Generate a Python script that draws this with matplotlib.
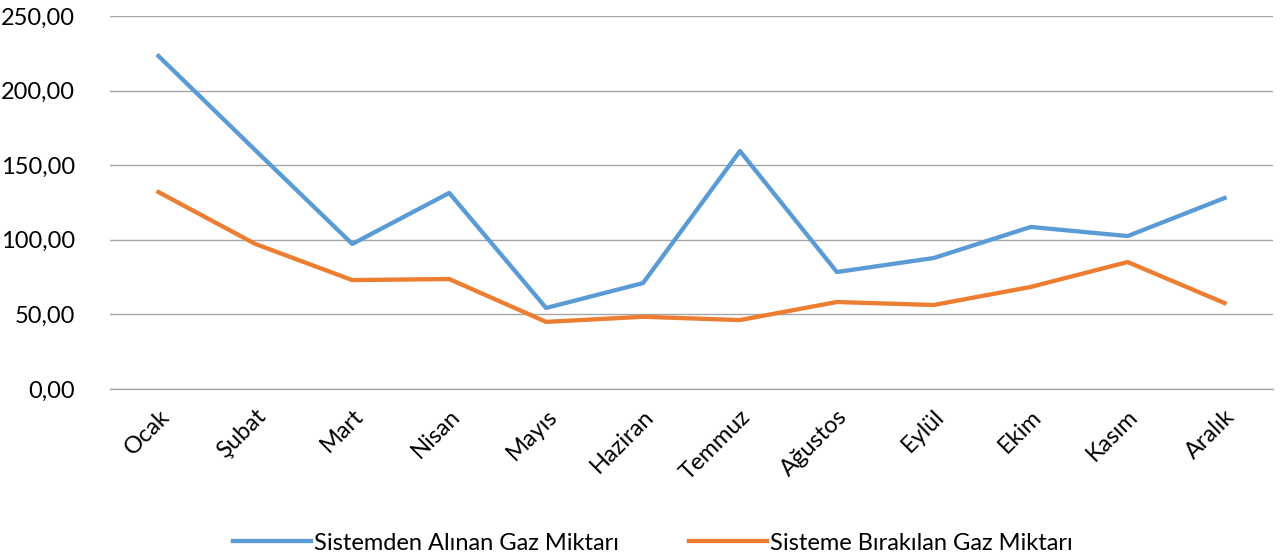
import matplotlib
matplotlib.use("Agg")
import matplotlib.pyplot as plt
from matplotlib.ticker import FuncFormatter

months = ["Ocak", "Şubat", "Mart", "Nisan", "Mayıs", "Haziran", "Temmuz",
          "Ağustos", "Eylül", "Ekim", "Kasım", "Aralık"]
alinan = [223.2, 160.0, 97.2, 131.4, 54.3, 71.0, 159.5, 78.4, 87.8, 108.6, 102.5, 128.0]
birakilan = [132.0, 97.2, 73.0, 73.7, 45.0, 48.4, 46.2, 58.3, 56.3, 68.4, 85.1, 57.6]
series_names = ["Sistemden Alınan Gaz Miktarı", "Sisteme Bırakılan Gaz Miktarı"]

plt.rcParams['font.family'] = ['Lato', 'DejaVu Sans']

fig = plt.figure(figsize=(12.8, 5.59), dpi=100)
ax = fig.add_axes([110/1280, 1 - 389/559, 1163/1280, 373/559])

x = range(len(months))
ax.plot(x, alinan, color="#5B9BD5", lw=3.1, label=series_names[0], solid_joinstyle="round")
ax.plot(x, birakilan, color="#ED7D31", lw=3.1, label=series_names[1], solid_joinstyle="round")

ax.set_xlim(-0.5, len(months) - 0.5)
ax.set_ylim(0, 250)
ax.set_yticks([0, 50, 100, 150, 200, 250])
ax.yaxis.set_major_formatter(FuncFormatter(lambda v, p: f"{v:.2f}".replace(".", ",")))
ax.set_xticks(list(x))
ax.set_xticklabels(months, rotation=45, ha="right", rotation_mode="anchor")

ax.grid(axis="y", color="#A6A6A6", lw=1.0)
ax.set_axisbelow(True)
for s in ax.spines.values():
    s.set_visible(False)
ax.spines["bottom"].set_visible(True)
ax.spines["bottom"].set_color("#A6A6A6")
ax.spines["bottom"].set_linewidth(1.0)
ax.tick_params(axis="both", length=0, labelsize=17, colors="black")
ax.tick_params(axis="y", pad=25)
ax.tick_params(axis="x", pad=12)

fig.legend(loc="center", bbox_to_anchor=(0.51, 1 - 543/559), ncol=2, frameon=False,
           fontsize=17, handlelength=3.3, columnspacing=3.0, handletextpad=0.1)

fig.savefig("out.png", dpi=100)
